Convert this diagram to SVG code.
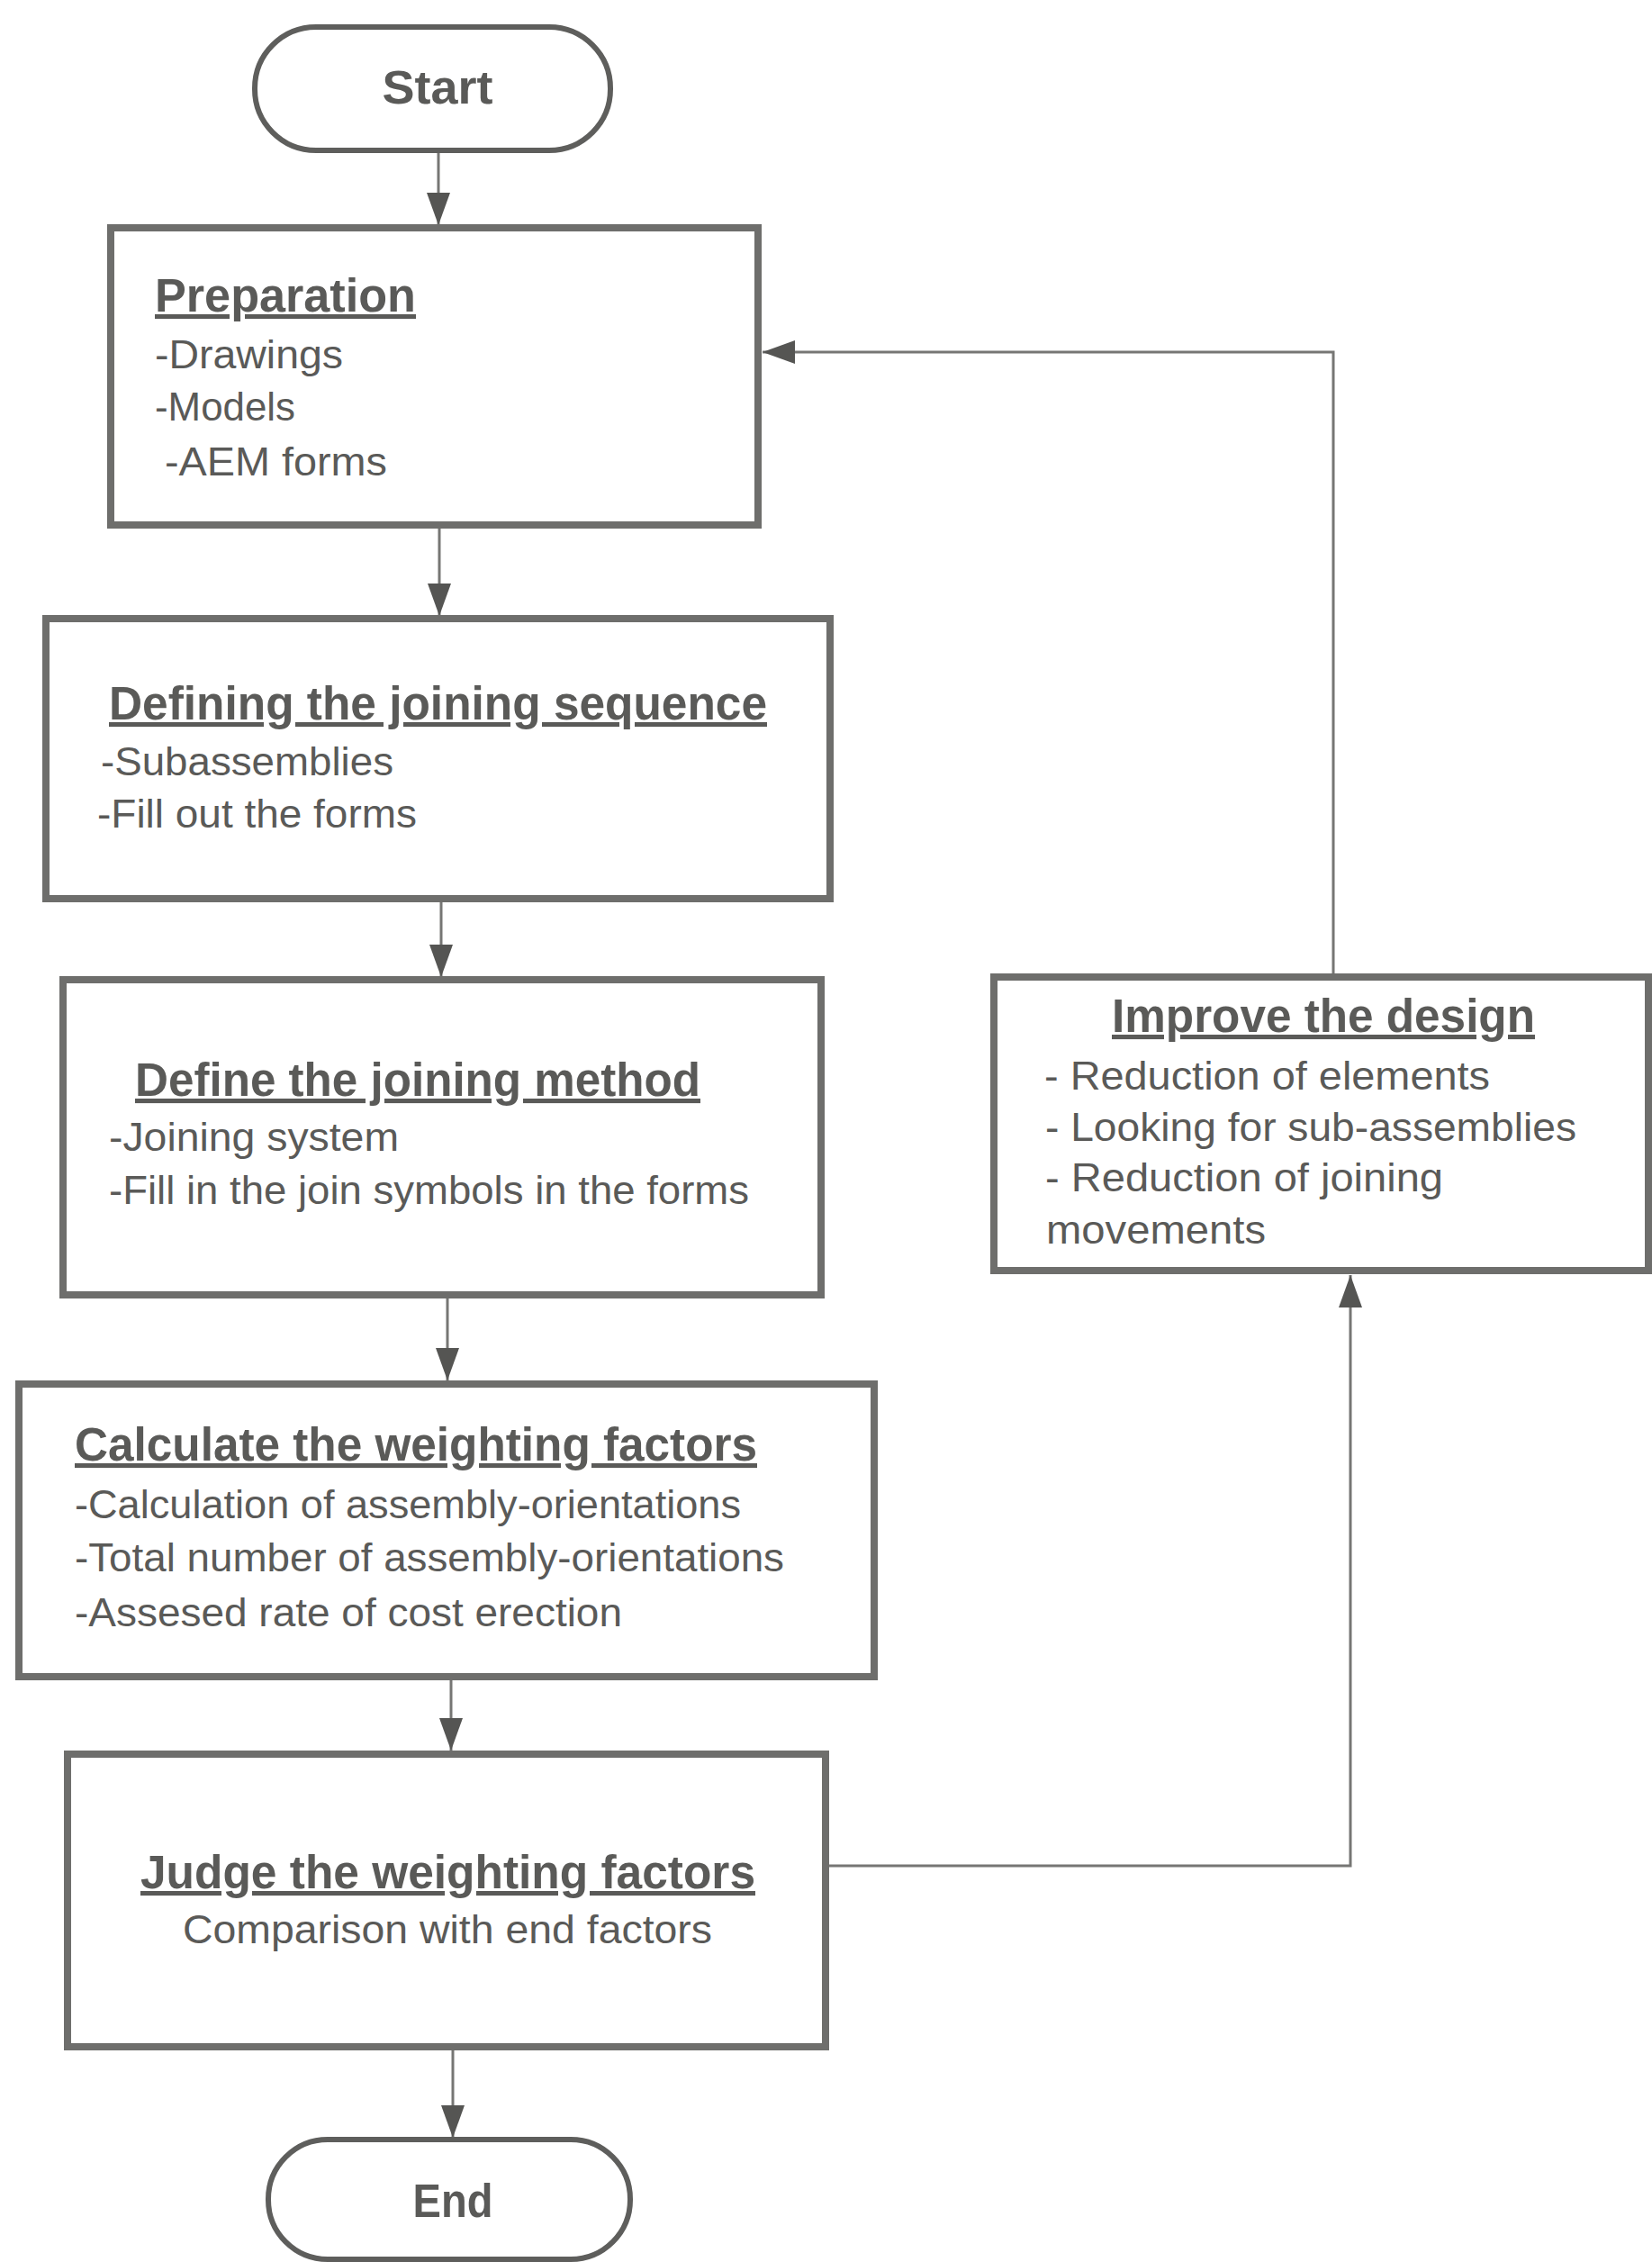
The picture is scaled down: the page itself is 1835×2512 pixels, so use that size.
<svg xmlns="http://www.w3.org/2000/svg" width="1835" height="2512" viewBox="0 0 1835 2512">
<defs>
<style>
.box{fill:#fff;stroke:#6e6e6c;stroke-width:8}
.term{fill:#fff;stroke:#5e5e5c;stroke-width:6}
.conn{fill:none;stroke:#767674;stroke-width:3}
text{font-family:"Liberation Sans",Arial,Helvetica,sans-serif;fill:#5a5a58}
.t{font-size:51px;font-weight:bold;text-decoration:underline}
.b{font-size:45px}
.lbl{font-size:51px;font-weight:bold}
</style>
<marker id="ah" markerUnits="userSpaceOnUse" viewBox="0 -13 36 26" markerWidth="36" markerHeight="26" refX="36" refY="0" orient="auto">
<path d="M36,0 L0,-13 L0,13 z" fill="#555553"/>
</marker>
</defs>
<rect width="1835" height="2512" fill="#fff"/>
<g id="connectors">
<line class="conn" x1="487" y1="167" x2="487" y2="250" marker-end="url(#ah)"/>
<line class="conn" x1="488" y1="583" x2="488" y2="684" marker-end="url(#ah)"/>
<line class="conn" x1="490" y1="998" x2="490" y2="1085" marker-end="url(#ah)"/>
<line class="conn" x1="497" y1="1438" x2="497" y2="1533" marker-end="url(#ah)"/>
<line class="conn" x1="501" y1="1862" x2="501" y2="1944" marker-end="url(#ah)"/>
<line class="conn" x1="503" y1="2273" x2="503" y2="2374" marker-end="url(#ah)"/>
<polyline class="conn" points="917,2072 1500,2072 1500,1416" marker-end="url(#ah)"/>
<polyline class="conn" points="1481,1085 1481,391 847,391" marker-end="url(#ah)"/>
</g>
<g id="start">
<rect class="term" x="283" y="30" width="395" height="137" rx="68" ry="68"/>
<text class="lbl" x="486" y="115" text-anchor="middle" textLength="123" lengthAdjust="spacingAndGlyphs">Start</text>
</g>
<g id="preparation">
<rect class="box" x="123" y="253" width="719" height="330"/>
<text class="t" x="172" y="346" textLength="290" lengthAdjust="spacingAndGlyphs">Preparation</text>
<text class="b" x="172" y="409" textLength="209" lengthAdjust="spacingAndGlyphs">-Drawings</text>
<text class="b" x="172" y="467" textLength="156" lengthAdjust="spacingAndGlyphs">-Models</text>
<text class="b" x="183" y="528" textLength="247" lengthAdjust="spacingAndGlyphs">-AEM forms</text>
</g>
<g id="defining-sequence">
<rect class="box" x="51" y="687" width="871" height="311"/>
<text class="t" x="121" y="799" textLength="731" lengthAdjust="spacingAndGlyphs">Defining the joining sequence</text>
<text class="b" x="112" y="861" textLength="325" lengthAdjust="spacingAndGlyphs">-Subassemblies</text>
<text class="b" x="108" y="919" textLength="355" lengthAdjust="spacingAndGlyphs">-Fill out the forms</text>
</g>
<g id="define-method">
<rect class="box" x="70" y="1088" width="842" height="350"/>
<text class="t" x="150" y="1217" textLength="628" lengthAdjust="spacingAndGlyphs">Define the joining method</text>
<text class="b" x="121" y="1278" textLength="322" lengthAdjust="spacingAndGlyphs">-Joining system</text>
<text class="b" x="121" y="1337" textLength="711" lengthAdjust="spacingAndGlyphs">-Fill in the join symbols in the forms</text>
</g>
<g id="calculate">
<rect class="box" x="21" y="1537" width="950" height="325"/>
<text class="t" x="83" y="1622" textLength="758" lengthAdjust="spacingAndGlyphs">Calculate the weighting factors</text>
<text class="b" x="83" y="1686" textLength="740" lengthAdjust="spacingAndGlyphs">-Calculation of assembly-orientations</text>
<text class="b" x="83" y="1745" textLength="788" lengthAdjust="spacingAndGlyphs">-Total number of assembly-orientations</text>
<text class="b" x="83" y="1806" textLength="608" lengthAdjust="spacingAndGlyphs">-Assesed rate of cost erection</text>
</g>
<g id="judge">
<rect class="box" x="75" y="1948" width="842" height="325"/>
<text class="t" x="156" y="2097" textLength="683" lengthAdjust="spacingAndGlyphs">Judge the weighting factors</text>
<text class="b" x="203" y="2158" textLength="588" lengthAdjust="spacingAndGlyphs">Comparison with end factors</text>
</g>
<g id="end">
<rect class="term" x="298" y="2376" width="402" height="133" rx="66" ry="66"/>
<text class="lbl" x="503" y="2462" text-anchor="middle" textLength="89" lengthAdjust="spacingAndGlyphs">End</text>
</g>
<g id="improve">
<rect class="box" x="1104" y="1085" width="727" height="326"/>
<text class="t" x="1235" y="1146" textLength="470" lengthAdjust="spacingAndGlyphs">Improve the design</text>
<text class="b" x="1160" y="1210" textLength="495" lengthAdjust="spacingAndGlyphs">- Reduction of elements</text>
<text class="b" x="1161" y="1267" textLength="590" lengthAdjust="spacingAndGlyphs">- Looking for sub-assemblies</text>
<text class="b" x="1161" y="1323" textLength="442" lengthAdjust="spacingAndGlyphs">- Reduction of joining</text>
<text class="b" x="1162" y="1381" textLength="244" lengthAdjust="spacingAndGlyphs">movements</text>
</g>
</svg>
